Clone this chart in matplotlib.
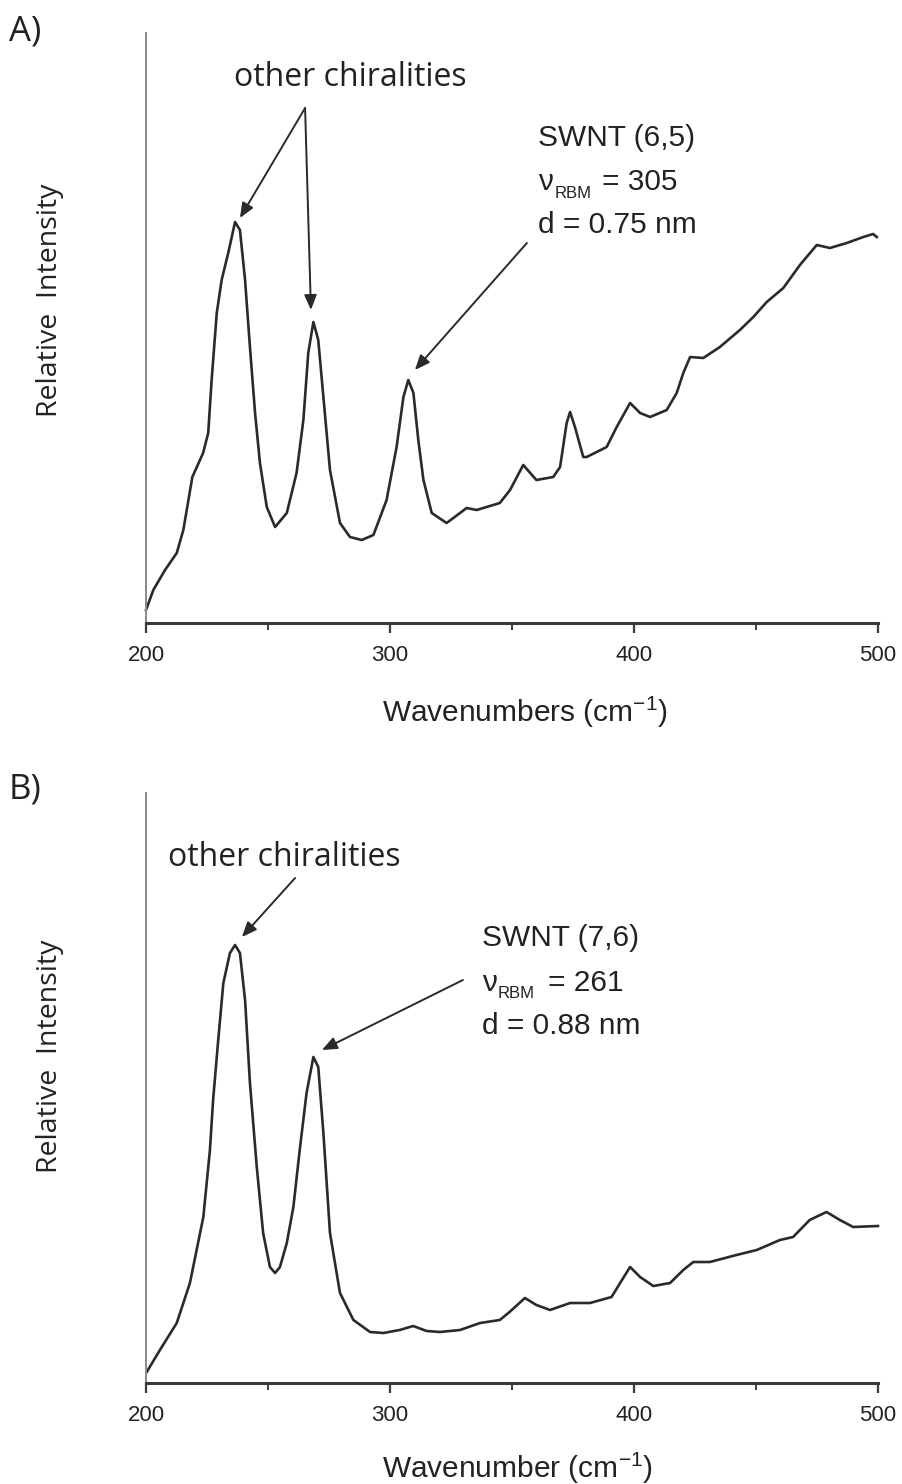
import matplotlib
matplotlib.use("Agg")
import matplotlib.pyplot as plt
from matplotlib.ticker import MultipleLocator

# ---------------- data ----------------
wn_a = [200, 203, 207.8, 212.6, 215.3, 219, 223.4, 225.5, 226.9, 229, 231, 233.7, 236.5,
        238.5, 240.6, 242.6, 244.7, 246.7, 249.5, 252.9, 257.7, 261.7, 264.5, 266.5, 268.6,
        270.6, 272.7, 275.4, 279.5, 283.6, 288.4, 293.2, 298.6, 302.7, 305.5, 307.5, 309.6,
        311.6, 313.7, 317.1, 323.2, 328.7, 331.4, 335.5, 345, 349.2, 354.6, 360, 366.9,
        369.7, 372.4, 373.8, 375.8, 379.2, 380.6, 388.8, 392.9, 398.4, 402.5, 406.6, 413.4,
        417.5, 420.2, 423, 428.4, 435.2, 443.4, 448.9, 454.4, 461.2, 468, 474.9, 480.3,
        487.2, 494, 498, 499.5]
int_a = [13, 33, 53, 70, 93, 146, 170, 190, 243, 310, 343, 370, 401,
         393, 343, 276, 210, 160, 116, 96, 110, 150, 203, 270, 301,
         283, 226, 153, 100, 86, 83, 88, 123, 176, 226, 243, 230,
         183, 143, 110, 100, 110, 115, 113, 120, 133, 158, 143, 146,
         156, 200, 211, 196, 166, 166, 176, 196, 220, 210, 206, 213,
         230, 250, 266, 265, 276, 293, 306, 321, 335, 358, 378, 375,
         380, 386, 389, 386]

wn_b = [200.3, 205.7, 212.6, 218, 223.5, 226.2, 227.5, 229.6, 231.7, 234.4, 236.5, 238.5,
        240.6, 242.6, 245.4, 248, 250.8, 252.9, 254.9, 257.7, 260.4, 263, 265.8, 268.6,
        270.6, 272.7, 275.4, 279.5, 285, 291.8, 297.3, 304, 309.5, 315, 320.5, 328.7,
        336.9, 345, 349, 355.3, 360, 365.6, 373.8, 382, 390.8, 394.3, 398.4, 402.5, 407.9,
        414.8, 420.2, 424.3, 431.1, 442, 450.3, 459.8, 465.2, 472, 478.9, 484.4, 489.8, 500]
int_b = [11, 33, 60, 100, 166, 233, 283, 343, 400, 430, 438, 430,
         383, 300, 216, 150, 116, 110, 116, 140, 176, 233, 290, 326,
         316, 250, 150, 90, 63, 51, 50, 53, 57, 52, 51, 53,
         60, 63, 71, 85, 78, 73, 80, 80, 86, 100, 116, 106, 97,
         100, 113, 121, 121, 128, 133, 143, 146, 163, 171, 163, 156, 157]

xticks = [200, 300, 400, 500]
xlabels = ["Wavenumbers (cm$^{\\mathregular{-1}}$)", "Wavenumber (cm$^{\\mathregular{-1}}$)"]
panel_tags = ["A)", "B)"]
swnt_lines = [("SWNT (6,5)", "305", "d = 0.75 nm"), ("SWNT (7,6)", "261", "d = 0.88 nm")]

# ---------------- figure ----------------
W, H = 902, 1484
fig = plt.figure(figsize=(W / 100, H / 100), dpi=100)

SANS = ["Liberation Sans", "DejaVu Sans"]
HUM = ["Open Sans", "DejaVu Sans"]
plt.rcParams["mathtext.fontset"] = "custom"
plt.rcParams["mathtext.rm"] = "Liberation Sans"

def px_axes(left, top, right, bottom):
    return fig.add_axes([left / W, 1 - bottom / H, (right - left) / W, (bottom - top) / H])

axA = px_axes(146, 33, 878, 623)
axB = px_axes(146, 793, 878, 1383)

line_col = "#2a2a2a"
for ax, wn, it in ((axA, wn_a, int_a), (axB, wn_b, int_b)):
    ax.plot(wn, it, color=line_col, lw=1.9, solid_joinstyle="round", clip_on=False)
    ax.set_xlim(200, 500)
    ax.set_ylim(0, 590)
    ax.spines["top"].set_visible(False)
    ax.spines["right"].set_visible(False)
    ax.spines["bottom"].set_color("#3a3a3a")
    ax.spines["bottom"].set_linewidth(2.2)
    ax.spines["left"].set_color("#8a8a8a")
    ax.spines["left"].set_linewidth(1.4)
    ax.set_yticks([])
    ax.set_xticks(xticks)
    ax.xaxis.set_minor_locator(MultipleLocator(50))
    ax.tick_params(axis="x", which="major", direction="out", length=7, width=1.6,
                   color="#3a3a3a", pad=9, labelsize=16, labelcolor="#222222")
    ax.tick_params(axis="x", which="minor", direction="out", length=5, width=1.4,
                   color="#3a3a3a")
    for lab in ax.get_xticklabels():
        lab.set_family(SANS)

arrow = dict(arrowstyle="-|>,head_length=0.6,head_width=0.25", color="#2a2a2a",
             lw=1.4, mutation_scale=15, shrinkA=0, shrinkB=0)

# ---- panel A annotations ----
axA.text(283.6, 545, "other chiralities", family=HUM, fontsize=23, color="#222222",
         ha="center", va="center")
axA.annotate("", xy=(238.5, 405), xytext=(265.2, 515), arrowprops=arrow)
axA.annotate("", xy=(267.6, 313), xytext=(265.2, 515), arrowprops=arrow)
axA.annotate("", xy=(310.2, 253), xytext=(356.1, 380), arrowprops=arrow)

# ---- panel B annotations ----
axB.text(256.6, 525, "other chiralities", family=HUM, fontsize=23, color="#222222",
         ha="center", va="center")
axB.annotate("", xy=(239.3, 446), xytext=(261.1, 505), arrowprops=arrow)
axB.annotate("", xy=(272.1, 333), xytext=(329.9, 403), arrowprops=arrow)

# ---- SWNT text blocks ----
def swnt_block(ax, x0, y_lines, nu_dx, eq_dx, sub_dy, lines):
    t1, val, t3 = lines
    kw = dict(family=SANS, fontsize=21.5, color="#222222", va="center", ha="left")
    ax.text(x0, y_lines[0], t1, **kw)
    ax.text(x0, y_lines[1], "\u03bd", **kw)
    ax.text(x0 + nu_dx, y_lines[1] - sub_dy, "RBM", family=SANS, fontsize=12,
            color="#222222", va="center", ha="left")
    ax.text(x0 + eq_dx, y_lines[1], "= " + val, **kw)
    ax.text(x0, y_lines[2], t3, **kw)

swnt_block(axA, 360.7, (485, 441, 398), 6.9, 26.2, 11, swnt_lines[0])
swnt_block(axB, 337.7, (445, 400, 357), 6.6, 27.1, 10, swnt_lines[1])

# ---- axis labels ----
for ax, xl, lx, ly, tag, ylab_y in ((axA, xlabels[0], 0.518, -0.151, panel_tags[0], 0.547),
                                    (axB, xlabels[1], 0.508, -0.144, panel_tags[1], 0.553)):
    ax.set_xlabel(xl, fontsize=21.5, family=SANS, color="#222222")
    ax.xaxis.set_label_coords(lx, ly)
    ax.xaxis.label.set_va("center")
    ax.set_ylabel("Relative  Intensity", fontsize=20.5, family=HUM, color="#222222")
    ax.yaxis.set_label_coords(-0.131, ylab_y)
    ax.yaxis.label.set_va("center")

fig.text(9 / W, 1 - 32 / H, panel_tags[0], fontsize=25, family=HUM, color="#222222",
         ha="left", va="center")
fig.text(9 / W, 1 - 790 / H, panel_tags[1], fontsize=25, family=HUM, color="#222222",
         ha="left", va="center")

fig.savefig("out.png", dpi=100, facecolor="white")
